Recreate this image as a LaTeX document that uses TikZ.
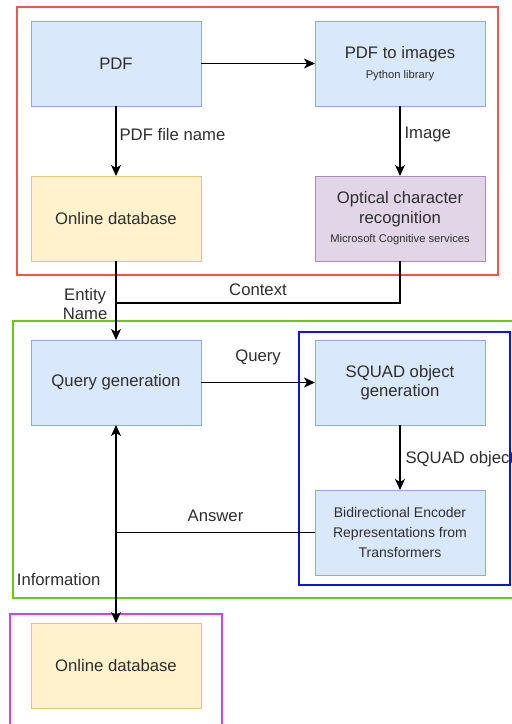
\documentclass[tikz,border=0pt]{standalone}
\usepackage{fontspec}
\setmainfont{Liberation Sans}
\usetikzlibrary{positioning, arrows.meta}
\definecolor{textgray}{HTML}{2E2E2E}
\definecolor{blueFill}{HTML}{DAE8FC}
\definecolor{blueLine}{HTML}{8FAADC}
\definecolor{yellowFill}{HTML}{FFF2CC}
\definecolor{yellowLine}{HTML}{E3C878}
\definecolor{purpleFill}{HTML}{E1D5E7}
\definecolor{purpleLine}{HTML}{A98BB8}
\definecolor{redFrame}{HTML}{F2564A}
\definecolor{greenFrame}{HTML}{6CC814}
\definecolor{blueFrame}{HTML}{1414D8}
\definecolor{pinkFrame}{HTML}{D444D8}

\begin{document}
\begin{tikzpicture}[x=1pt, y=1pt,
    every node/.style={font=\fontsize{16.7}{19.4}\selectfont, text=textgray},
    >={Stealth[length=11pt, width=10pt, inset=3pt]},
    block/.style={rectangle, draw, minimum width=170pt, minimum height=85pt, outer sep=0pt, align=center, line width=1pt},
    process/.style={block, fill=blueFill, draw=blueLine},
    source/.style={block, fill=yellowFill, draw=yellowLine},
    service/.style={block, fill=purpleFill, draw=purpleLine},
    frame/.style={line width=2.5pt},
    link/.style={draw=black, line width=1.2pt},
    flow/.style={link, ->},
    tag/.style={inner sep=2pt},
    small/.style={font=\fontsize{11.2}{13}\selectfont}
  ]
  \useasboundingbox (0,0) rectangle (512,-724);

  \draw [frame, redFrame] (17,-7) rectangle (498,-275);
  \draw [frame, greenFrame] (13,-321) rectangle (530,-598);
  \draw [frame, blueFrame] (299,-332) rectangle (510,-585);
  \draw [frame, pinkFrame] (10,-614) rectangle (222,-740);

  \node [process] (pdf) at (116,-63.5) {PDF};
  \node [process, right=114pt of pdf] (pdfimg) {PDF to images\\{\fontsize{11.2}{13}\selectfont Python library}};
  \node [source, below=70pt of pdf] (db1) {Online database};
  \node [service, below=70pt of pdfimg] (ocr) {Optical character\\recognition\\{\fontsize{11.2}{13}\selectfont Microsoft Cognitive services}};
  \node [process, below=79pt of db1] (qgen) {Query generation};
  \node [process, right=114pt of qgen] (squad) {SQUAD object\\generation};
  \node [process, below=65pt of squad, font=\fontsize{14}{19.6}\selectfont] (bert) {Bidirectional Encoder\\Representations from\\Transformers};
  \node [source, below=198pt of qgen] (db2) {Online database};

  \coordinate [below=42pt of db1.south] (ctxjoin);
  \coordinate (ansjoin) at (qgen |- bert);

  \draw [flow] (pdf) -- (pdfimg);
  \draw [flow] (pdf) -- node [tag, right=1pt, pos=0.41] {PDF file name} (db1);
  \draw [flow] (pdfimg) -- node [tag, right=2pt, pos=0.41] {Image} (ocr);
  \draw [flow] (db1) -- node [tag, left=6pt, pos=0.54, align=center, font=\fontsize{16.7}{19}\selectfont] {Entity\\Name} (qgen);
  \draw [link] (ocr) |- node [tag, above=5pt, pos=0.75] {Context} (ctxjoin);
  \draw [flow] (qgen) -- node [tag, above=15pt] {Query} (squad);
  \draw [flow] (squad) -- node [tag, right=3pt, pos=0.52] {SQUAD object} (bert);
  \draw [link] (bert) -- node [tag, above=8pt] {Answer} (ansjoin);
  \draw [link, <->] (qgen) -- node [tag, left=13pt, pos=0.78] {Information} (db2);
\end{tikzpicture}
\end{document}
